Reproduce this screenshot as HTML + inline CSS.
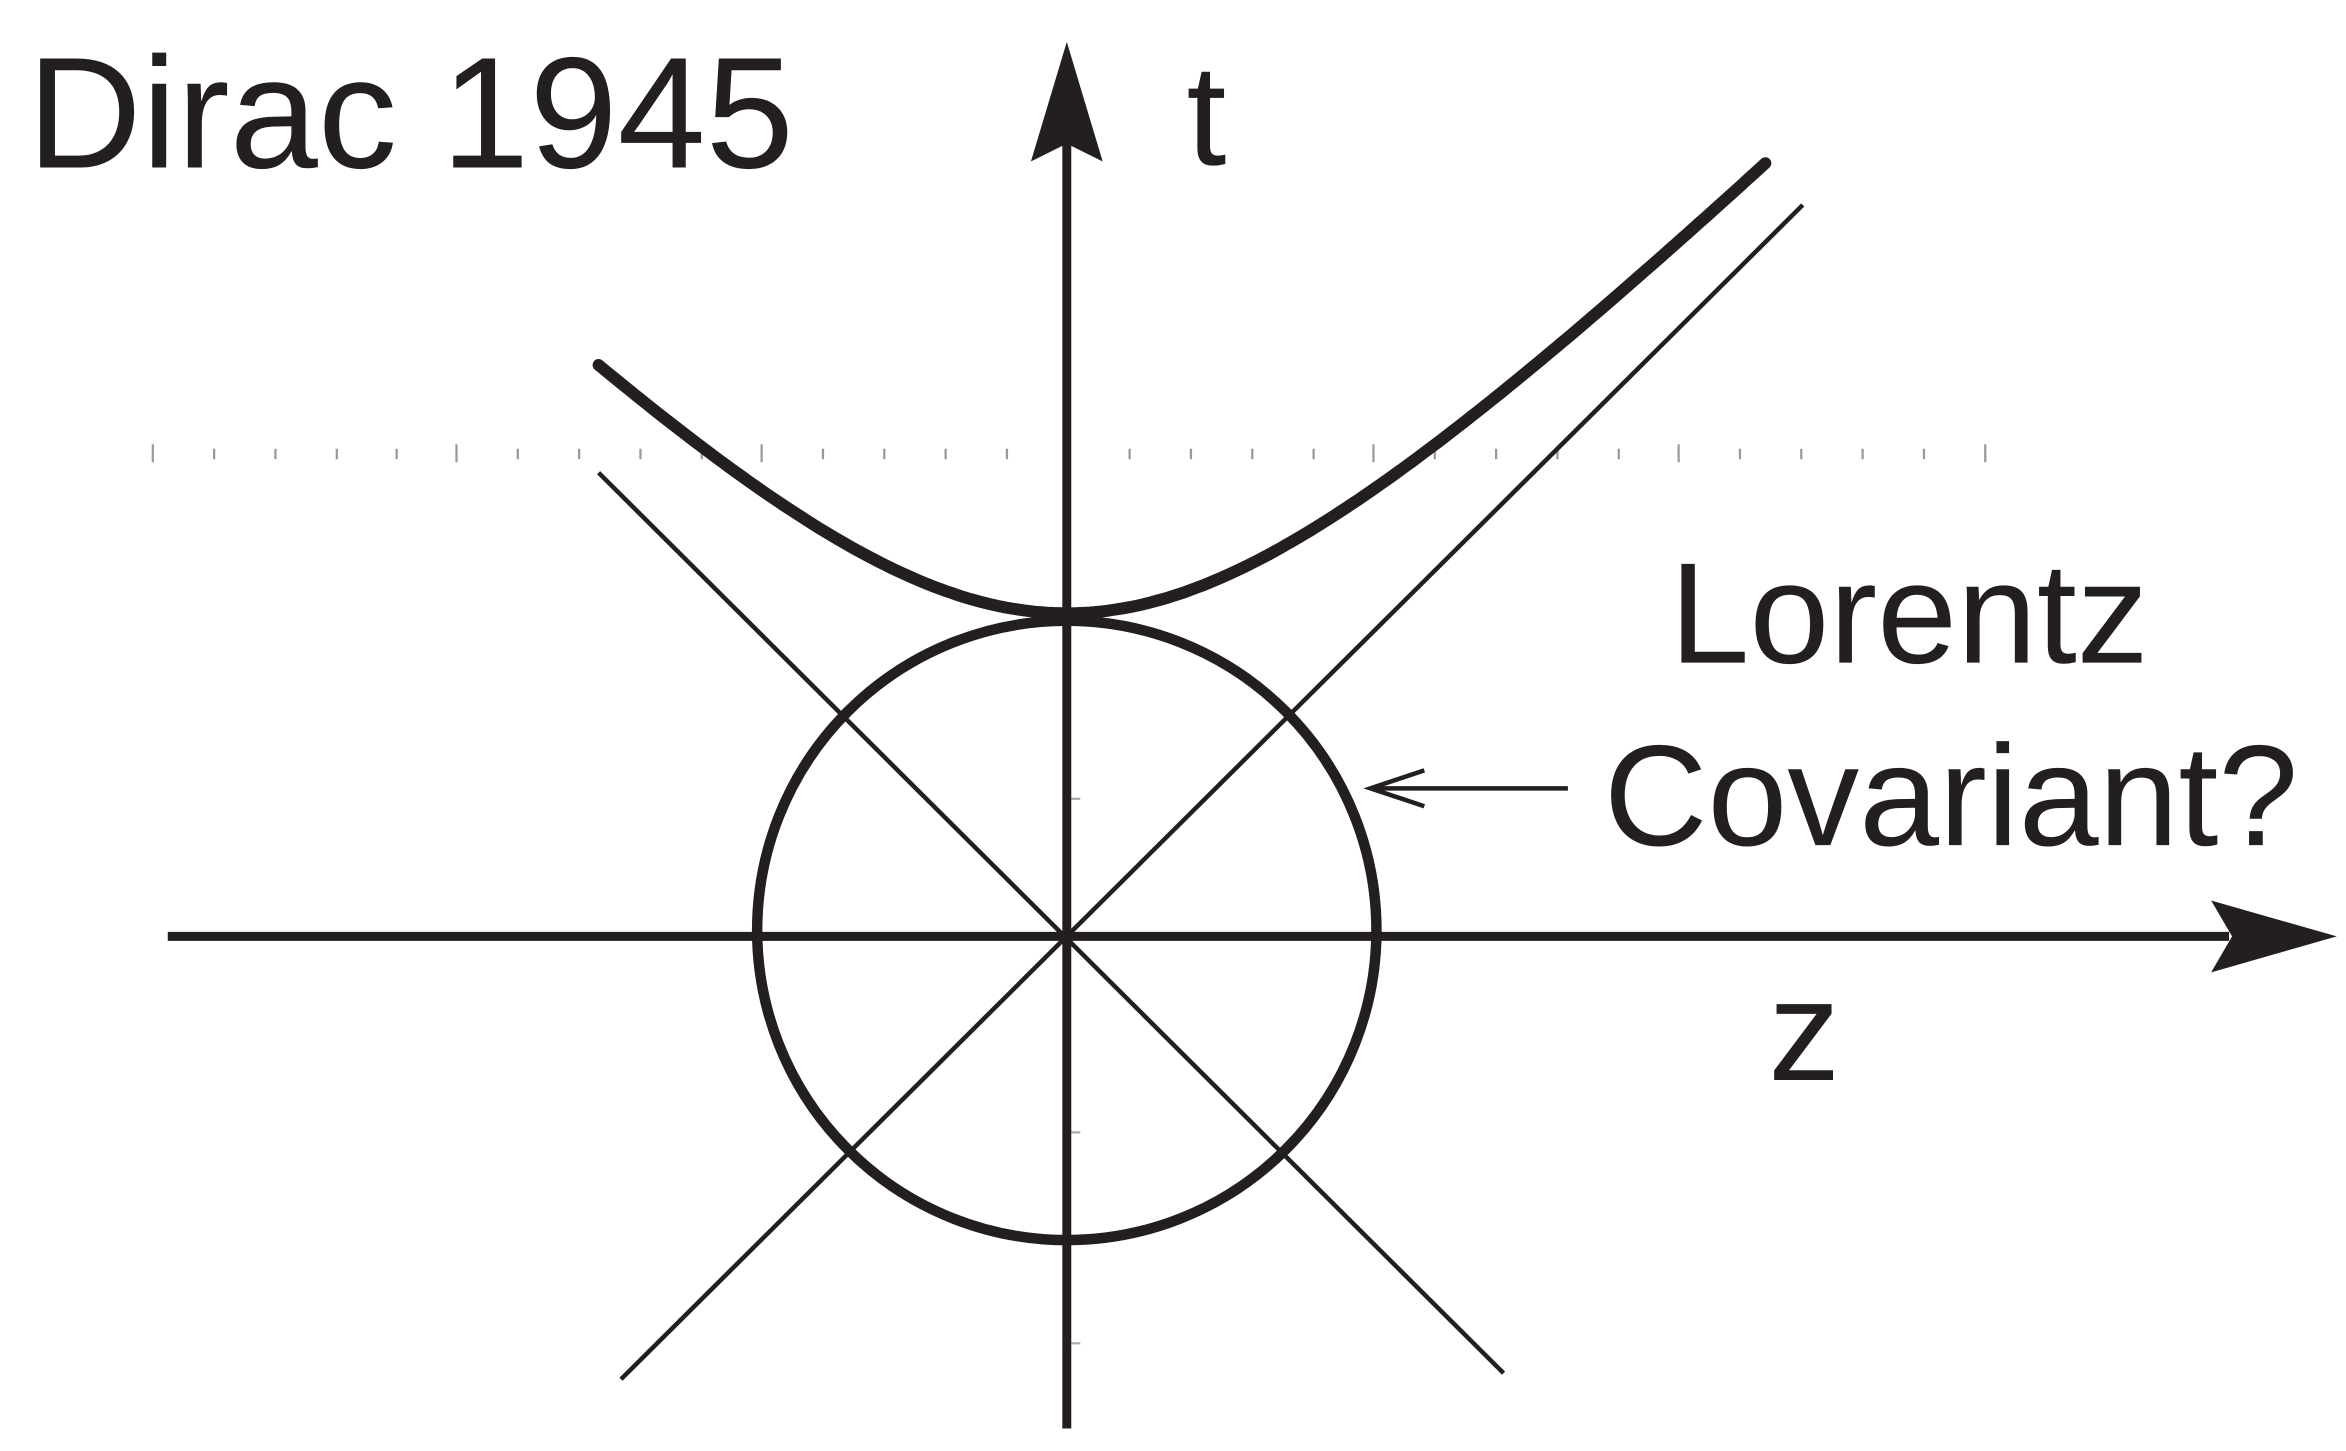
<!DOCTYPE html>
<html><head><meta charset="utf-8"><style>
html,body{margin:0;padding:0;background:#fff;}
svg{display:block;}
text{font-family:"Liberation Sans",sans-serif;fill:#231f20;}
</style></head><body>
<svg width="2346" height="1451" viewBox="0 0 1568 970" xmlns="http://www.w3.org/2000/svg">
<rect width="1568" height="970" fill="#fff"/>
<!-- faint tick line -->
<g stroke="#999" stroke-width="1.5">
<line x1="102" y1="297" x2="102" y2="309"/><line x1="143" y1="300" x2="143" y2="307"/><line x1="184" y1="300" x2="184" y2="307"/><line x1="225" y1="300" x2="225" y2="307"/><line x1="265" y1="300" x2="265" y2="307"/>
<line x1="305" y1="297" x2="305" y2="309"/><line x1="346" y1="300" x2="346" y2="307"/><line x1="387" y1="300" x2="387" y2="307"/><line x1="428" y1="300" x2="428" y2="307"/><line x1="469" y1="300" x2="469" y2="307"/>
<line x1="509" y1="297" x2="509" y2="309"/><line x1="550" y1="300" x2="550" y2="307"/><line x1="591" y1="300" x2="591" y2="307"/><line x1="632" y1="300" x2="632" y2="307"/><line x1="673" y1="300" x2="673" y2="307"/>
<line x1="755" y1="300" x2="755" y2="307"/><line x1="796" y1="300" x2="796" y2="307"/><line x1="837" y1="300" x2="837" y2="307"/><line x1="878" y1="300" x2="878" y2="307"/>
<line x1="918" y1="297" x2="918" y2="309"/><line x1="959" y1="300" x2="959" y2="307"/><line x1="1000" y1="300" x2="1000" y2="307"/><line x1="1041" y1="300" x2="1041" y2="307"/><line x1="1082" y1="300" x2="1082" y2="307"/>
<line x1="1122" y1="297" x2="1122" y2="309"/><line x1="1163" y1="300" x2="1163" y2="307"/><line x1="1204" y1="300" x2="1204" y2="307"/><line x1="1245" y1="300" x2="1245" y2="307"/><line x1="1286" y1="300" x2="1286" y2="307"/>
<line x1="1327" y1="297" x2="1327" y2="309"/>
</g>
<g stroke="#aaa" stroke-width="1.5">
<line x1="716" y1="534" x2="722" y2="534"/><line x1="716" y1="757" x2="722" y2="757"/><line x1="716" y1="898" x2="722" y2="898"/>
</g>
<!-- diagonals -->
<g stroke="#231f20" stroke-width="3">
<line x1="400" y1="316" x2="1005" y2="918"/>
<line x1="415" y1="922" x2="1205" y2="137"/>
</g>
<!-- axes -->
<g stroke="#231f20" stroke-width="6" fill="none">
<line x1="713" y1="955" x2="713" y2="95"/>
<line x1="112" y1="626" x2="1490" y2="626"/>
<circle cx="713" cy="622" r="207" stroke-width="7"/>
</g>
<polygon points="713,28 689,108 713,96 737,108" fill="#231f20"/>
<polygon points="1562,626 1478,602 1492,626 1478,650" fill="#231f20"/>
<!-- hyperbola -->
<path id="hyp" fill="none" stroke="#231f20" stroke-width="8" stroke-linecap="round" d=""/>
<script>
(function(){var d="";for(var x=400;x<=1182;x+=4){var u=x-713;var y=622-Math.sqrt(212*212+u*u);d+=(x==400?"M":"L")+x+","+y.toFixed(1)+" ";}
document.getElementById("hyp").setAttribute("d",d);})();
</script>
<!-- small arrow -->
<line x1="1048" y1="527" x2="920" y2="527" stroke="#231f20" stroke-width="3"/>
<polyline points="952,515 916,527 952,539" fill="none" stroke="#231f20" stroke-width="3"/>
<!-- labels -->
<text x="18" y="112" font-size="106">Dirac 1945</text>
<text x="793" y="110" font-size="96">t</text>
<text x="1182" y="722" font-size="96">z</text>
<text x="1116" y="443" font-size="96">Lorentz</text>
<text x="1072" y="565" font-size="96">Covariant?</text>
</svg>
</body></html>
